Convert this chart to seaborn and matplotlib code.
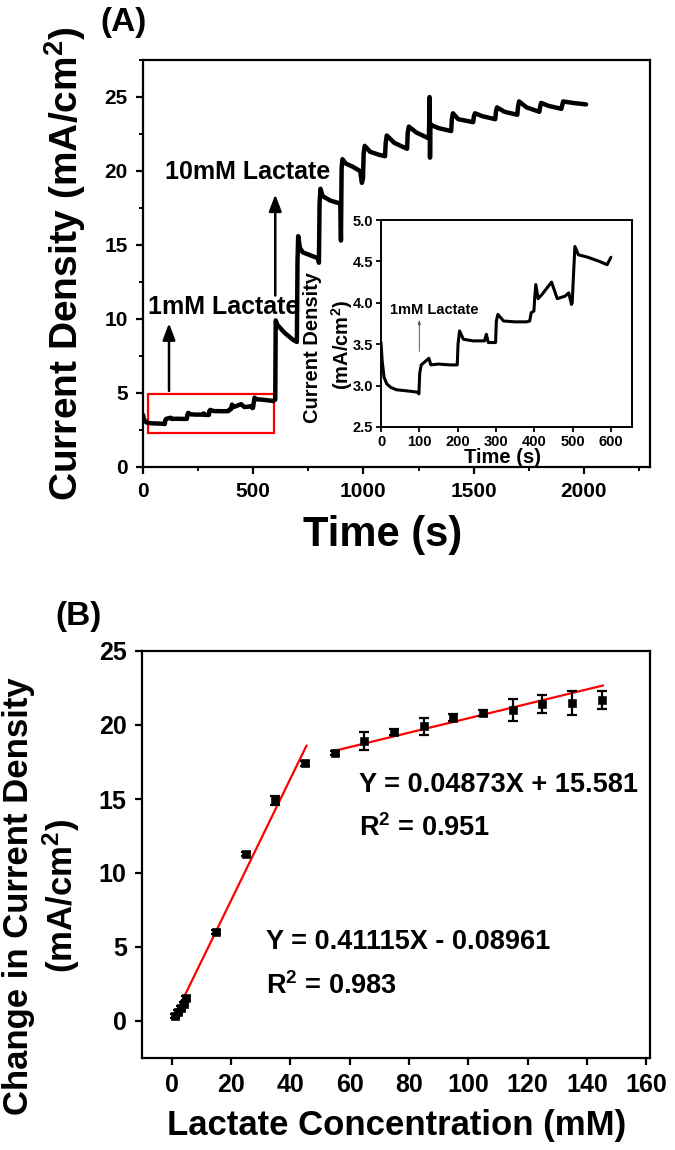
import matplotlib
matplotlib.use("Agg")
import matplotlib.pyplot as plt
import matplotlib.ticker as mticker
from matplotlib.patches import Rectangle
import numpy as np
import pandas as pd
import seaborn as sns

# ---- (A) current density vs time ----
time_s = [0, 3, 8, 15, 25, 40, 60, 80, 95, 99,
          101, 105, 125, 130, 150, 180, 199,
          201, 205, 215, 240, 270, 275, 280, 299,
          301, 305, 320, 350, 380, 388, 392, 399,
          401, 404, 410, 420, 440, 445, 460, 480, 490, 497, 499,
          503, 506, 515, 540, 570, 590, 600,
          602, 610, 640, 680, 698,
          701, 704, 712, 725, 760, 795, 798,
          801, 805, 815, 850, 895, 898,
          901, 905, 920, 950, 985, 993, 998,
          1001, 1006, 1030, 1070, 1098,
          1101, 1106, 1140, 1198,
          1201, 1206, 1240, 1297,
          1300, 1302, 1304, 1308, 1340, 1398,
          1401, 1406, 1430, 1498,
          1501, 1506, 1540, 1598,
          1601, 1606, 1640, 1698,
          1701, 1706, 1740, 1798,
          1801, 1806, 1840, 1898,
          1901, 1906, 1950, 2010]
current = [3.52, 3.3, 3.1, 3.02, 2.98, 2.95, 2.94, 2.93, 2.92, 2.9,
           3.15, 3.25, 3.33, 3.25, 3.26, 3.25, 3.25,
           3.5, 3.66, 3.56, 3.54, 3.54, 3.62, 3.52, 3.52,
           3.78, 3.86, 3.78, 3.77, 3.77, 3.78, 3.88, 3.9,
           4.05, 4.22, 4.05, 4.1, 4.22, 4.25, 4.05, 4.08, 4.12, 3.98, 4.0,
           4.4, 4.68, 4.58, 4.55, 4.5, 4.46, 4.55,
           9.9, 9.6, 9.1, 8.6, 8.45,
           14.0, 15.6, 14.8, 14.5, 14.3, 14.1, 13.8,
           17.8, 18.8, 18.3, 18.0, 17.8, 15.3,
           20.2, 20.8, 20.5, 20.3, 20.0, 19.2, 19.5,
           21.2, 21.7, 21.3, 21.1, 21.0,
           21.9, 22.4, 21.9, 21.5,
           22.6, 23.0, 22.6, 22.2,
           25.0, 20.9, 23.2, 23.1, 22.9, 22.7,
           23.5, 23.9, 23.5, 23.3,
           23.7, 23.9, 23.7, 23.5,
           24.0, 24.3, 24.0, 23.8,
           24.3, 24.7, 24.3, 24.0,
           24.3, 24.6, 24.4, 24.2,
           24.4, 24.7, 24.6, 24.5]

# ---- (B) calibration points ----
conc_mM = [1, 2, 3, 4, 5, 15, 25, 35, 45, 55, 65, 75, 85, 95, 105, 115, 125, 135, 145]
delta_j = [0.35, 0.62, 0.88, 1.18, 1.55, 6.0, 11.3, 14.9, 17.4, 18.1, 18.9, 19.5,
           19.9, 20.5, 20.8, 21.0, 21.4, 21.5, 21.7]
delta_err = [0.12, 0.12, 0.12, 0.12, 0.12, 0.15, 0.15, 0.3, 0.2, 0.15, 0.6, 0.2,
             0.55, 0.25, 0.2, 0.75, 0.6, 0.8, 0.6]

# linear fits as printed on the figure
fit_slope = [0.41115, 0.04873]
fit_icpt = [-0.08961, 15.581]
fit_x0 = [0.5, 55]
fit_x1 = [45.5, 145.5]
fit_eq = ["Y = 0.41115X - 0.08961", "Y = 0.04873X + 15.581"]
fit_r2 = ["0.983", "0.951"]

sns.set_style("ticks")
plt.rcParams['font.family'] = ['Liberation Sans', 'DejaVu Sans']
plt.rcParams['font.weight'] = 'bold'
plt.rcParams['axes.labelweight'] = 'bold'
plt.rcParams['mathtext.default'] = 'regular'
plt.rcParams['axes.linewidth'] = 1.6
plt.rcParams['xtick.direction'] = 'out'
plt.rcParams['ytick.direction'] = 'out'
for key in ['text.color', 'axes.labelcolor', 'axes.edgecolor',
            'xtick.color', 'ytick.color']:
    plt.rcParams[key] = 'black'

df = pd.DataFrame({"t": time_s, "j": current})
df_in = df[df.t <= 600]

fig = plt.figure(figsize=(6.75, 11.5), dpi=100)
W, H = 675, 1150
def box(l, t, r, b):
    return [l / W, 1 - b / H, (r - l) / W, (b - t) / H]

# ---------------- panel A ----------------
axA = fig.add_axes(box(143, 60, 650, 467))
sns.lineplot(data=df, x="t", y="j", ax=axA, color="black", lw=3.2,
             estimator=None)
axA.set_xlim(0, 2300)
axA.set_ylim(0, 27.5)
axA.xaxis.set_major_locator(mticker.MultipleLocator(500))
axA.xaxis.set_minor_locator(mticker.MultipleLocator(250))
axA.yaxis.set_major_locator(mticker.MultipleLocator(5))
axA.yaxis.set_minor_locator(mticker.MultipleLocator(2.5))
axA.tick_params(which='major', length=5, width=1.6, labelsize=15, pad=6)
axA.tick_params(which='minor', length=3, width=1.4)
axA.set_xlabel("")
axA.set_ylabel("")
axA.text(0.473, -0.167, "Time (s)", transform=axA.transAxes, ha='center',
         va='center', fontsize=30, fontweight='bold')
axA.text(-0.154, 0.5, "Current Density (mA/cm$^2$)", transform=axA.transAxes,
         ha='center', va='center', rotation=90, fontsize=28, fontweight='bold')
for s in axA.spines.values():
    s.set_visible(True)

axA.add_patch(Rectangle((23, 2.3), 572, 2.6, fill=False, edgecolor='red', lw=1.6))
axA.annotate("", xy=(600, 18.6), xytext=(600, 11.4),
             arrowprops=dict(arrowstyle="-|>,head_width=0.38,head_length=1.0",
                             color="black", lw=1.8))
axA.annotate("", xy=(118, 9.9), xytext=(118, 4.95),
             arrowprops=dict(arrowstyle="-|>,head_width=0.38,head_length=1.0",
                             color="black", lw=1.8))
axA.text(101, 19.9, "10mM Lactate", fontsize=18, fontweight='bold', va='center')
axA.text(24, 10.8, "1mM Lactate", fontsize=18, fontweight='bold', va='center')
fig.text(100 / W, 1 - 23 / H, "(A)", fontsize=24, fontweight='bold', va='center')

# inset
axI = fig.add_axes(box(381, 220, 632, 427))
sns.lineplot(data=df_in, x="t", y="j", ax=axI, color="black", lw=2.2,
             estimator=None)
axI.set_xlim(0, 655)
axI.set_ylim(2.5, 5.0)
axI.xaxis.set_major_locator(mticker.MultipleLocator(100))
axI.yaxis.set_major_locator(mticker.MultipleLocator(0.5))
axI.yaxis.set_major_formatter(mticker.FormatStrFormatter('%.1f'))
axI.tick_params(length=3.5, width=1.3, labelsize=10.5, pad=2)
for s in axI.spines.values():
    s.set_visible(True)
    s.set_linewidth(1.4)
axI.set_xlabel("")
axI.set_ylabel("")
axI.text(0.484, -0.145, "Time (s)", transform=axI.transAxes, ha='center',
         va='center', fontsize=14.5, fontweight='bold')
axI.text(-0.271, 0.382, "Current Density", transform=axI.transAxes, ha='center',
         va='center', rotation=90, fontsize=14.5, fontweight='bold')
axI.text(-0.155, 0.396, "(mA/cm$^2$)", transform=axI.transAxes, ha='center',
         va='center', rotation=90, fontsize=14.5, fontweight='bold')
axI.annotate("", xy=(100, 3.83), xytext=(100, 3.38),
             arrowprops=dict(arrowstyle="-|>,head_width=0.08,head_length=0.25",
                             color="#555555", lw=0.7))
axI.text(23, 3.91, "1mM Lactate", fontsize=10.5, fontweight='bold', va='center')

# ---------------- panel B ----------------
axB = fig.add_axes(box(142, 651, 650, 1058))
for k in range(2):
    xs = [fit_x0[k], fit_x1[k]]
    ys = [fit_slope[k] * x + fit_icpt[k] for x in xs]
    sns.lineplot(x=xs, y=ys, ax=axB, color="red", lw=1.6, estimator=None)
axB.errorbar(conc_mM, delta_j, yerr=delta_err, fmt='none', ecolor='black',
             elinewidth=1.6, capsize=3.5, capthick=1.6, zorder=3)
sns.scatterplot(x=conc_mM, y=delta_j, ax=axB, color='black', marker='s',
                s=30, edgecolor='black', zorder=4)
axB.set_xlim(-10, 161.3)
axB.set_ylim(-2.5, 25)
axB.xaxis.set_major_locator(mticker.MultipleLocator(20))
axB.yaxis.set_major_locator(mticker.MultipleLocator(5))
axB.tick_params(length=5, width=1.6, labelsize=18, pad=6)
for s in axB.spines.values():
    s.set_visible(True)
axB.set_xlabel("")
axB.set_ylabel("")
axB.text(0.502, -0.165, "Lactate Concentration (mM)", transform=axB.transAxes,
         ha='center', va='center', fontsize=25, fontweight='bold')
axB.text(-0.197, 0.398, "Change in Current Density\n(mA/cm$^2$)",
         transform=axB.transAxes, ha='center', va='center', rotation=90,
         fontsize=25, fontweight='bold', linespacing=1.15)
axB.text(63.2, 15.96, fit_eq[1], fontsize=19.5, fontweight='bold', va='center')
axB.text(63.2, 13.06, "R$^2$ = " + fit_r2[1], fontsize=19.5, fontweight='bold',
         va='center')
axB.text(31.8, 5.37, fit_eq[0], fontsize=19.5, fontweight='bold', va='center')
axB.text(31.8, 2.34, "R$^2$ = " + fit_r2[0], fontsize=19.5, fontweight='bold',
         va='center')
fig.text(55 / W, 1 - 617 / H, "(B)", fontsize=24, fontweight='bold', va='center')

fig.savefig("out.png", dpi=100)
